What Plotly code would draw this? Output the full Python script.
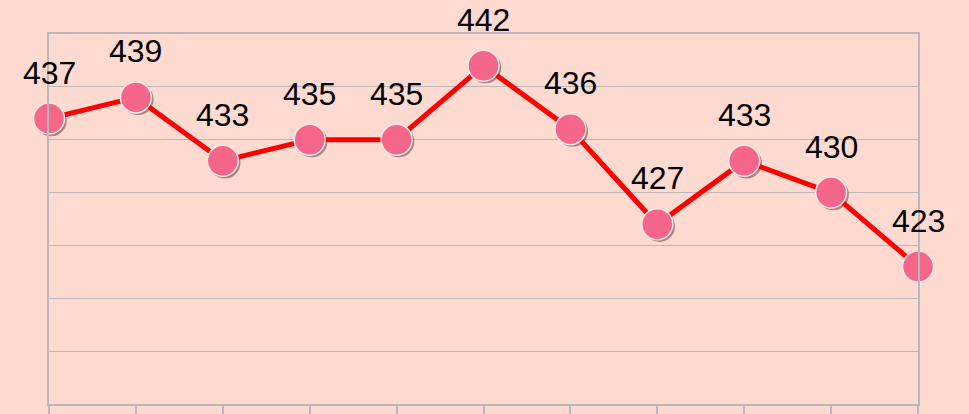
import plotly.graph_objects as go

categories = list(range(11))
values = [437, 439, 433, 435, 435, 442, 436, 427, 433, 430, 423]
labels = [str(v) for v in values]

bg = "#FFDAD0"
grid = "#BAB8B8"

fig = go.Figure()

# soft shadow under markers (offset derived from data positions)
fig.add_trace(go.Scatter(
    x=[c + 0.025 for c in categories],
    y=[v - 0.2 for v in values],
    mode="markers",
    marker=dict(size=31, color="rgba(90,40,50,0.5)", line=dict(width=0)),
    hoverinfo="skip", cliponaxis=False, showlegend=False,
))

fig.add_trace(go.Scatter(
    x=categories,
    y=values,
    mode="lines+markers",
    line=dict(color="#FF0000", width=5),
    marker=dict(size=31, color="#F5668A", line=dict(color="#FBEAEA", width=1.5)),
    cliponaxis=False,
    showlegend=False,
))

for c, v, t in zip(categories, values, labels):
    fig.add_annotation(
        x=c, y=v, text=t, showarrow=False,
        yanchor="bottom", xanchor="center", yshift=26,
        font=dict(family="Liberation Sans, Arial, sans-serif", size=32, color="#000000"),
    )

fig.update_layout(
    width=969, height=414,
    margin=dict(l=49, r=51, t=34, b=10, autoexpand=False),
    paper_bgcolor=bg, plot_bgcolor=bg,
    xaxis=dict(
        range=[0, 10], tickmode="array", tickvals=categories,
        showticklabels=False, showgrid=False, zeroline=False,
        ticks="outside", ticklen=14, tickcolor=grid, tickwidth=2,
        showline=True, linecolor=grid, linewidth=1.5, mirror=True,
        automargin=False,
    ),
    yaxis=dict(
        range=[410, 445], dtick=5, tick0=410,
        showticklabels=False, showgrid=True, gridcolor=grid, gridwidth=1,
        zeroline=False, showline=True, linecolor=grid, linewidth=1.5, mirror=True,
        ticks="", automargin=False,
    ),
)

fig.write_html("out.html", config={"displayModeBar": False},
               post_script="document.body.style.margin='0';document.body.style.padding='0';")
